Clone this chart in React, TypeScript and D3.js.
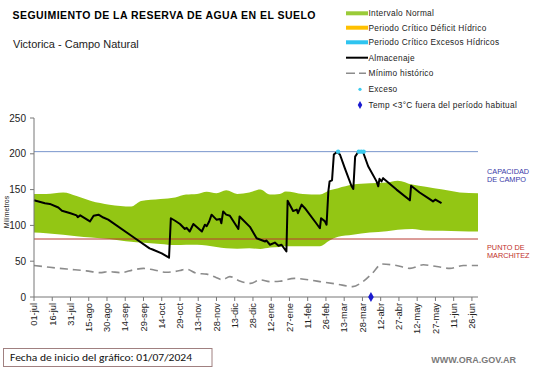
import { useEffect, useRef } from "react";
import * as d3 from "d3";

// dias desde 01/07/2024
const tickLabels = ["01-jul", "16-jul", "31-jul", "15-ago", "30-ago", "14-sep", "29-sep", "14-oct", "29-oct", "13-nov", "28-nov", "13-dic", "28-dic", "12-ene", "27-ene", "11-feb", "26-feb", "13-mar", "28-mar", "12-abr", "27-abr", "12-may", "27-may", "11-jun", "26-jun"];

const bandDays = [0, 10, 24, 35, 47, 62, 80, 88, 104, 116, 125, 134, 142, 150, 158, 167, 177, 186, 194, 202, 207, 221, 235, 243, 250, 262, 276, 290, 299, 311, 322, 336, 350, 365];
const bandUpper = [144, 144, 146, 141, 134, 129, 126.5, 134, 137, 139, 143, 144, 147, 145, 149, 144, 146, 150, 143, 144, 147.5, 144, 143, 149, 152, 157, 159, 160, 162.5, 157, 154, 150, 146, 145];
const bandLower = [90, 89, 87, 85, 83, 81, 77, 76, 74, 72.5, 73, 73, 72, 70, 68, 67.5, 68, 67, 69, 70, 71, 71, 71, 79, 84, 87, 90, 92, 94, 95, 93, 92.5, 92, 91.5];

const minDays = [0, 13, 27, 43, 54, 62, 71, 82, 90, 98, 109, 120, 125, 134, 142, 150, 155, 161, 169, 178, 186, 194, 202, 214, 235, 249, 262, 270, 278, 286, 298, 309, 320, 331, 342, 353, 365];
const minVals = [44, 41.5, 39, 36.5, 34, 35.5, 34, 38, 40, 38, 34.5, 37, 39, 33, 32, 27, 24, 28.5, 22.5, 19, 24, 21.5, 22, 26, 21.5, 18, 14.5, 21, 33, 46, 44, 40, 45, 42.5, 40, 44, 44];

const almDays = [0, 9, 13, 20, 23, 30, 35, 36, 38, 46, 49, 53, 57, 61, 83, 95, 98, 105, 111, 112.5, 116, 120, 124, 125.5, 128, 131, 135, 138, 140.5, 142, 144, 146, 150, 153, 154, 155.5, 158, 161, 168, 169, 177.5, 183, 190, 191, 194, 198, 201, 203.5, 207.5, 208.5, 213, 216, 217, 220, 222.7, 232, 235, 236, 239, 240.5, 242, 243, 245, 246.5, 249, 251.5, 255.5, 261, 262.5, 264, 266.5, 270.5, 274.7, 281.6, 283, 284, 285.7, 287, 298, 309, 310, 317, 325, 328, 330, 335];
const almVals = [135, 131, 130, 125, 120.5, 117, 114, 111.5, 114, 105.5, 113.5, 115, 111, 108, 82, 68, 66, 61, 55, 110, 106.5, 102, 95, 96.5, 91.5, 102, 96, 91.5, 101, 99, 105.5, 115, 108, 109, 103, 119.5, 115, 113.5, 95, 112.5, 98, 82, 77.5, 79, 73, 76, 71.5, 73, 63.5, 134.5, 120, 122, 117, 129, 124, 103, 96, 110, 106, 101, 148, 161.5, 163, 199, 202.5, 199, 180, 155, 151, 196, 202.5, 202.5, 182.6, 161.5, 154.6, 165, 161.5, 166, 150, 135, 155.5, 146, 137, 133.5, 136, 131];

const excesoDays = [250, 267, 269, 271];
const heladaDays = [277];

const capacidad = 203;
const marchitez = 81;
const yTicks = [0, 50, 100, 150, 200, 250];

const legendItems = ["Intervalo Normal", "Periodo Crítico Déficit Hídrico", "Periodo Crítico Excesos Hídricos", "Almacenaje", "Mínimo histórico", "Exceso", "Temp <3°C fuera del período habitual"];

const FONT = "'Liberation Sans', Arial, sans-serif";

export default function App() {
  const ref = useRef<SVGSVGElement>(null);

  useEffect(() => {
    if (!ref.current) return;
    const svg = d3.select(ref.current);
    svg.selectAll("*").remove();

    const x = d3.scaleLinear([0, 365], [34, 478]);
    const y = d3.scaleLinear([0, 250], [297, 118]);

    // banda normal
    const band = bandDays.map((d, i) => ({ d, lo: bandLower[i], hi: bandUpper[i] }));
    svg.append("path")
      .datum(band)
      .attr("fill", "#93c614")
      .attr("d", d3.area<any>().x((p) => x(p.d)).y0((p) => y(p.lo)).y1((p) => y(p.hi)).curve(d3.curveMonotoneX));

    // capacidad de campo / punto de marchitez
    svg.append("line").attr("x1", x(0)).attr("x2", x(365)).attr("y1", y(capacidad)).attr("y2", y(capacidad))
      .attr("stroke", "#7896cc").attr("stroke-width", 1);
    svg.append("line").attr("x1", x(0)).attr("x2", x(365)).attr("y1", y(marchitez)).attr("y2", y(marchitez))
      .attr("stroke", "#b83a32").attr("stroke-width", 1);

    // minimo historico
    const minPts = minDays.map((d, i) => [d, minVals[i]] as [number, number]);
    svg.append("path")
      .datum(minPts)
      .attr("fill", "none")
      .attr("stroke", "#8c8c8c")
      .attr("stroke-width", 1.6)
      .attr("stroke-dasharray", "8,5")
      .attr("d", d3.line().x((p) => x(p[0])).y((p) => y(p[1])).curve(d3.curveMonotoneX));

    // almacenaje
    const almPts = almDays.map((d, i) => [d, almVals[i]] as [number, number]);
    svg.append("path")
      .datum(almPts)
      .attr("fill", "none")
      .attr("stroke", "#000")
      .attr("stroke-width", 2)
      .attr("stroke-linejoin", "round")
      .attr("d", d3.line().x((p) => x(p[0])).y((p) => y(p[1])));

    svg.selectAll(".exceso").data(excesoDays).join("circle")
      .attr("cx", (d) => x(d)).attr("cy", y(capacidad)).attr("r", 2.2).attr("fill", "#3ccbee");

    // ejes
    const ax = svg.append("g").attr("stroke", "#777").attr("stroke-width", 1);
    ax.append("line").attr("x1", x(0)).attr("x2", x(0)).attr("y1", y(250)).attr("y2", y(0));
    ax.append("line").attr("x1", x(0)).attr("x2", x(365)).attr("y1", y(0)).attr("y2", y(0));
    ax.selectAll(".yt").data(yTicks).join("line")
      .attr("x1", x(0) - 4).attr("x2", x(0)).attr("y1", (d) => y(d)).attr("y2", (d) => y(d));
    ax.selectAll(".xt").data(tickLabels).join("line")
      .attr("x1", (_, i) => x(i * 15)).attr("x2", (_, i) => x(i * 15)).attr("y1", y(0)).attr("y2", y(0) + 4);

    svg.selectAll(".yl").data(yTicks).join("text")
      .attr("x", 26).attr("y", (d) => y(d)).attr("dy", "0.35em")
      .attr("text-anchor", "end").attr("font-size", 10).attr("font-family", FONT).attr("fill", "#222")
      .text((d) => d);

    svg.selectAll(".xl").data(tickLabels).join("text")
      .attr("transform", (_, i) => `translate(${x(i * 15)},${y(0) + 6}) rotate(-90)`)
      .attr("dy", "0.35em")
      .attr("text-anchor", "end").attr("font-size", 9.3).attr("font-family", FONT).attr("fill", "#222")
      .text((d) => d);

    svg.selectAll(".helada").data(heladaDays).join("path")
      .attr("transform", (d) => `translate(${x(d)},${y(0)})`)
      .attr("d", d3.symbol(d3.symbolDiamond, 28)())
      .attr("fill", "#1a1ad0");

    svg.append("text")
      .attr("transform", "translate(9,212) rotate(-90)")
      .attr("text-anchor", "middle").attr("font-size", 7).attr("font-family", FONT).attr("fill", "#222")
      .text("Milímetros");

    // titulos
    svg.append("text").attr("x", 12.5).attr("y", 19.3)
      .attr("font-size", 10.5).attr("font-weight", "bold").attr("font-family", FONT).attr("fill", "#000")
      .attr("textLength", 303).attr("lengthAdjust", "spacing")
      .text("SEGUIMIENTO DE LA RESERVA DE AGUA  EN EL SUELO");
    svg.append("text").attr("x", 13).attr("y", 47.5)
      .attr("font-size", 11).attr("font-family", FONT).attr("fill", "#222")
      .text("Victorica - Campo Natural");

    // leyenda
    const rows = [13.3, 27.7, 42.3, 57.7, 73.3, 89.3, 105];
    const lg = svg.append("g");
    const swatch = ["#9acb38", "#ffc000", "#2ec4f0"];
    swatch.forEach((c, i) => {
      lg.append("rect").attr("x", 346).attr("y", rows[i] - 2).attr("width", 22).attr("height", 4).attr("fill", c);
    });
    lg.append("line").attr("x1", 346).attr("x2", 368).attr("y1", rows[3]).attr("y2", rows[3])
      .attr("stroke", "#000").attr("stroke-width", 2);
    lg.append("line").attr("x1", 346).attr("x2", 366).attr("y1", rows[4]).attr("y2", rows[4])
      .attr("stroke", "#8c8c8c").attr("stroke-width", 1.6).attr("stroke-dasharray", "9,4");
    lg.append("circle").attr("cx", 360).attr("cy", rows[5]).attr("r", 1.6).attr("fill", "#3ccbee");
    lg.append("path").attr("transform", `translate(360,${rows[6]})`)
      .attr("d", d3.symbol(d3.symbolDiamond, 18)()).attr("fill", "#1a1ad0");
    lg.selectAll("text").data(legendItems).join("text")
      .attr("x", 368.5).attr("y", (_, i) => rows[i] + 3)
      .attr("font-size", 8.3).attr("font-family", FONT).attr("fill", "#222")
      .attr("letter-spacing", 0.3)
      .text((d) => d);

    // rotulos a la derecha
    const side = [
      { t: "CAPACIDAD", yy: 173.5, c: "#3a3aa8" },
      { t: "DE  CAMPO", yy: 182, c: "#3a3aa8" },
      { t: "PUNTO   DE", yy: 249.5, c: "#c0302a" },
      { t: "MARCHITEZ", yy: 258, c: "#c0302a" },
    ];
    svg.selectAll(".side").data(side).join("text")
      .attr("x", 487).attr("y", (d) => d.yy)
      .attr("font-size", 7.3).attr("font-family", FONT).attr("fill", (d) => d.c)
      .text((d) => d.t);

    // pie
    svg.append("rect").attr("x", 3.5).attr("y", 348.5).attr("width", 208.5).attr("height", 18)
      .attr("fill", "#fff").attr("stroke", "#a08080").attr("stroke-width", 1);
    svg.append("text").attr("x", 10).attr("y", 361)
      .attr("font-size", 10.5).attr("font-family", "Carlito, 'Open Sans', Arial, sans-serif").attr("fill", "#111")
      .attr("textLength", 182).attr("lengthAdjust", "spacingAndGlyphs")
      .text("Fecha de inicio del gráfico:  01/07/2024");
    svg.append("text").attr("x", 516).attr("y", 363).attr("text-anchor", "end")
      .attr("font-size", 9).attr("font-weight", "bold").attr("font-family", FONT).attr("fill", "#7a7a7a")
      .text("WWW.ORA.GOV.AR");
  }, []);

  return (
    <svg ref={ref} width={541} height={368}
      style={{ position: "absolute", left: 0, top: 0, background: "#fff" }} />
  );
}
